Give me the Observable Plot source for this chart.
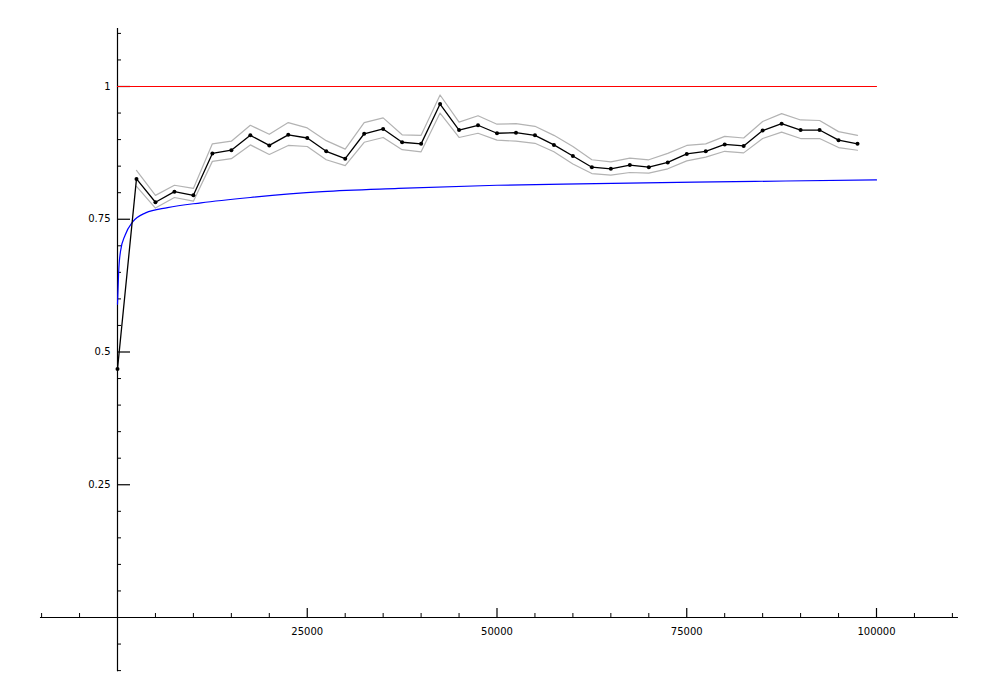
<!DOCTYPE html>
<html>
<head>
<meta charset="utf-8">
<script src="https://cdn.jsdelivr.net/npm/d3@7"></script>
<script src="https://cdn.jsdelivr.net/npm/@observablehq/plot@0.6"></script>
<style>
  html, body { margin: 0; padding: 0; background: #fff; }
  svg { font-family: "DejaVu Sans", sans-serif; }
</style>
</head>
<body>
<div id="chart"></div>
<script>
// Sampled x positions of the observed series
const sampleX = [0, 2500, 5000, 7500, 10000, 12500, 15000, 17500, 20000, 22500,
  25000, 27500, 30000, 32500, 35000, 37500, 40000, 42500, 45000, 47500,
  50000, 52500, 55000, 57500, 60000, 62500, 65000, 67500, 70000, 72500,
  75000, 77500, 80000, 82500, 85000, 87500, 90000, 92500, 95000, 97500];

// Observed values (black line with dots)
const observed = [0.468, 0.826, 0.782, 0.802, 0.795, 0.874, 0.880, 0.908, 0.889, 0.909,
  0.903, 0.878, 0.864, 0.911, 0.920, 0.895, 0.892, 0.967, 0.918, 0.927,
  0.912, 0.913, 0.908, 0.890, 0.869, 0.848, 0.845, 0.852, 0.848, 0.857,
  0.873, 0.878, 0.891, 0.888, 0.917, 0.930, 0.918, 0.918, 0.899, 0.892];

// Upper and lower band (grey lines), starting at x = 2500
const upperBand = [null, 0.842, 0.795, 0.814, 0.808, 0.892, 0.897, 0.927, 0.910, 0.932,
  0.922, 0.898, 0.882, 0.932, 0.941, 0.909, 0.908, 0.984, 0.933, 0.945,
  0.929, 0.930, 0.925, 0.908, 0.887, 0.862, 0.858, 0.865, 0.862, 0.874,
  0.889, 0.892, 0.906, 0.903, 0.934, 0.949, 0.937, 0.936, 0.915, 0.908];
const lowerBand = [null, 0.812, 0.771, 0.791, 0.784, 0.859, 0.864, 0.890, 0.872, 0.889,
  0.887, 0.862, 0.851, 0.895, 0.904, 0.881, 0.877, 0.950, 0.904, 0.912,
  0.899, 0.897, 0.893, 0.877, 0.854, 0.836, 0.833, 0.838, 0.837, 0.845,
  0.860, 0.867, 0.878, 0.875, 0.902, 0.914, 0.902, 0.902, 0.885, 0.880];

// Reference curve (blue)
const curveX = [0, 150, 400, 1000, 2000, 3700, 6600, 11000, 17500, 27000, 37000, 50000, 63000, 76000, 88000, 100000];
const curveY = [0.59, 0.65, 0.69, 0.72, 0.745, 0.762, 0.772, 0.781, 0.791, 0.802, 0.808, 0.814, 0.817, 0.820, 0.822, 0.824];

// Target level (red)
const targetX = [0, 100000];
const targetY = [1, 1];

// Axes
const xAxisExtent = [-10150, 110800];
const yAxisExtent = [-0.102, 1.109];
const xMajorTicks = [25000, 50000, 75000, 100000];
const xMinorTicks = [-10000, -5000, 5000, 10000, 15000, 20000, 30000, 35000, 40000, 45000, 55000, 60000, 65000, 70000, 80000, 85000, 90000, 95000, 105000, 110000];
const yMajorTicks = [0.25, 0.5, 0.75, 1];
const yTickLabels = ["0.25", "0.5", "0.75", "1"];
const yMinorTicks = [-0.1, -0.05, 0.05, 0.1, 0.15, 0.2, 0.3, 0.35, 0.4, 0.45, 0.55, 0.6, 0.65, 0.7, 0.8, 0.85, 0.9, 0.95, 1.05, 1.1];

const obsData = sampleX.map((x, i) => ({x, y: observed[i]}));
const upData = sampleX.map((x, i) => ({x, y: upperBand[i]})).filter(d => d.y != null);
const loData = sampleX.map((x, i) => ({x, y: lowerBand[i]})).filter(d => d.y != null);
const curveData = curveX.map((x, i) => ({x, y: curveY[i]}));
const targetData = targetX.map((x, i) => ({x, y: targetY[i]}));

const chart = Plot.plot({
  width: 1000,
  height: 700,
  margin: 0,
  style: {fontFamily: "DejaVu Sans, sans-serif", fontSize: "10px", background: "white"},
  x: {domain: [0, 100000], range: [117, 876], axis: null},
  y: {domain: [0, 1], range: [617, 86], axis: null},
  marks: [
    // axes lines
    Plot.ruleY([0], {x1: xAxisExtent[0], x2: xAxisExtent[1], stroke: "black", strokeWidth: 1.2}),
    Plot.ruleX([0], {y1: yAxisExtent[0], y2: yAxisExtent[1], stroke: "black", strokeWidth: 1.2}),
    // x ticks
    Plot.tickX(xMajorTicks, {x: d => d, insetTop: 608, insetBottom: 83, stroke: "black", strokeWidth: 1.2}),
    Plot.tickX(xMinorTicks, {x: d => d, insetTop: 613, insetBottom: 83, stroke: "black", strokeWidth: 1}),
    // y ticks
    Plot.tickY(yMajorTicks, {y: d => d, insetLeft: 117, insetRight: 870, stroke: "black", strokeWidth: 1.2}),
    Plot.tickY(yMinorTicks, {y: d => d, insetLeft: 117, insetRight: 879, stroke: "black", strokeWidth: 1}),
    // tick labels
    Plot.text(xMajorTicks, {x: d => d, y: 0, dy: 14, text: d => String(d), fill: "black", fontSize: 10}),
    Plot.text(yMajorTicks, {x: 0, y: d => d, dx: -7, textAnchor: "end", text: (d, i) => yTickLabels[i], fill: "black", fontSize: 10}),
    // data
    Plot.line(targetData, {x: "x", y: "y", stroke: "#ff0000", strokeWidth: 1.2}),
    Plot.line(curveData, {x: "x", y: "y", stroke: "#0000ff", strokeWidth: 1.2, curve: "monotone-x"}),
    Plot.line(upData, {x: "x", y: "y", stroke: "#b3b3b3", strokeWidth: 1.2}),
    Plot.line(loData, {x: "x", y: "y", stroke: "#b3b3b3", strokeWidth: 1.2}),
    Plot.line(obsData, {x: "x", y: "y", stroke: "black", strokeWidth: 1.3}),
    Plot.dot(obsData, {x: "x", y: "y", r: 2, fill: "black", stroke: "none"})
  ]
});
document.getElementById("chart").appendChild(chart);
</script>
</body>
</html>
